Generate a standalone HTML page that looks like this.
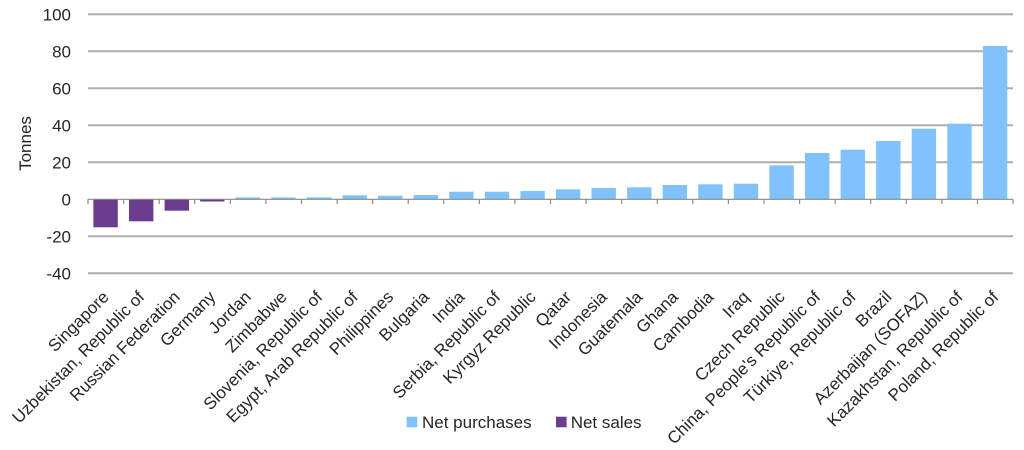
<!DOCTYPE html>
<html>
<head>
<meta charset="utf-8">
<style>
html,body{margin:0;padding:0;background:#fff;}
svg{display:block;}
text{font-family:"Liberation Sans",sans-serif;fill:#262626;}
</style>
</head>
<body>
<svg width="1024" height="450" viewBox="0 0 1024 450" xmlns="http://www.w3.org/2000/svg">
<rect width="1024" height="450" fill="#fff"/>
<g stroke="#adadad" stroke-width="2">
<line x1="88" x2="1013" y1="14.3" y2="14.3"/>
<line x1="88" x2="1013" y1="51.3" y2="51.3"/>
<line x1="88" x2="1013" y1="88.3" y2="88.3"/>
<line x1="88" x2="1013" y1="125.3" y2="125.3"/>
<line x1="88" x2="1013" y1="162.3" y2="162.3"/>
<line x1="88" x2="1013" y1="236.3" y2="236.3"/>
<line x1="88" x2="1013" y1="273.3" y2="273.3"/>
</g>
<g font-size="17" text-anchor="end">
<text x="71" y="20.3">100</text>
<text x="71" y="57.3">80</text>
<text x="71" y="94.3">60</text>
<text x="71" y="131.3">40</text>
<text x="71" y="168.3">20</text>
<text x="71" y="205.3">0</text>
<text x="71" y="242.3">-20</text>
<text x="71" y="279.3">-40</text>
</g>
<text font-size="17" text-anchor="middle" transform="translate(31,143.5) rotate(-90)">Tonnes</text>
<g fill="#6b3d8e">
<rect x="93.4" y="199.3" width="24.4" height="28.0"/>
<rect x="129.0" y="199.3" width="24.4" height="22.0"/>
<rect x="164.6" y="199.3" width="24.4" height="11.4"/>
<rect x="200.1" y="199.3" width="24.4" height="2.2"/>
</g>
<g fill="#80c3fc">
<rect x="235.7" y="197.4" width="24.4" height="1.9"/>
<rect x="271.3" y="197.4" width="24.4" height="1.9"/>
<rect x="306.9" y="197.3" width="24.4" height="2.0"/>
<rect x="342.5" y="195.3" width="24.4" height="4.0"/>
<rect x="378.0" y="195.7" width="24.4" height="3.6"/>
<rect x="413.6" y="195.0" width="24.4" height="4.3"/>
<rect x="449.2" y="191.7" width="24.4" height="7.6"/>
<rect x="484.8" y="191.7" width="24.4" height="7.6"/>
<rect x="520.4" y="191.0" width="24.4" height="8.3"/>
<rect x="555.9" y="189.3" width="24.4" height="10.0"/>
<rect x="591.5" y="188.0" width="24.4" height="11.3"/>
<rect x="627.1" y="187.3" width="24.4" height="12.0"/>
<rect x="662.7" y="185.0" width="24.4" height="14.3"/>
<rect x="698.2" y="184.3" width="24.4" height="15.0"/>
<rect x="733.8" y="183.7" width="24.4" height="15.6"/>
<rect x="769.4" y="165.3" width="24.4" height="34.0"/>
<rect x="805.0" y="153.0" width="24.4" height="46.3"/>
<rect x="840.6" y="149.7" width="24.4" height="49.6"/>
<rect x="876.1" y="141.0" width="24.4" height="58.3"/>
<rect x="911.7" y="128.7" width="24.4" height="70.6"/>
<rect x="947.3" y="123.7" width="24.4" height="75.6"/>
<rect x="982.9" y="46.0" width="24.4" height="153.3"/>
</g>
<line x1="88" x2="1013" y1="199.3" y2="199.3" stroke="#8a8a8a" stroke-width="1.2"/>
<g stroke="#8a8a8a" stroke-width="1.2">
<line x1="88.0" x2="88.0" y1="199.3" y2="204"/>
<line x1="123.6" x2="123.6" y1="199.3" y2="204"/>
<line x1="159.2" x2="159.2" y1="199.3" y2="204"/>
<line x1="194.7" x2="194.7" y1="199.3" y2="204"/>
<line x1="230.3" x2="230.3" y1="199.3" y2="204"/>
<line x1="265.9" x2="265.9" y1="199.3" y2="204"/>
<line x1="301.5" x2="301.5" y1="199.3" y2="204"/>
<line x1="337.1" x2="337.1" y1="199.3" y2="204"/>
<line x1="372.6" x2="372.6" y1="199.3" y2="204"/>
<line x1="408.2" x2="408.2" y1="199.3" y2="204"/>
<line x1="443.8" x2="443.8" y1="199.3" y2="204"/>
<line x1="479.4" x2="479.4" y1="199.3" y2="204"/>
<line x1="514.9" x2="514.9" y1="199.3" y2="204"/>
<line x1="550.5" x2="550.5" y1="199.3" y2="204"/>
<line x1="586.1" x2="586.1" y1="199.3" y2="204"/>
<line x1="621.7" x2="621.7" y1="199.3" y2="204"/>
<line x1="657.3" x2="657.3" y1="199.3" y2="204"/>
<line x1="692.8" x2="692.8" y1="199.3" y2="204"/>
<line x1="728.4" x2="728.4" y1="199.3" y2="204"/>
<line x1="764.0" x2="764.0" y1="199.3" y2="204"/>
<line x1="799.6" x2="799.6" y1="199.3" y2="204"/>
<line x1="835.1" x2="835.1" y1="199.3" y2="204"/>
<line x1="870.7" x2="870.7" y1="199.3" y2="204"/>
<line x1="906.3" x2="906.3" y1="199.3" y2="204"/>
<line x1="941.9" x2="941.9" y1="199.3" y2="204"/>
<line x1="977.5" x2="977.5" y1="199.3" y2="204"/>
<line x1="1013.0" x2="1013.0" y1="199.3" y2="204"/>
</g>
<g font-size="17" text-anchor="end">
<text transform="translate(109.8,298) rotate(-45)">Singapore</text>
<text transform="translate(145.4,298) rotate(-45)">Uzbekistan, Republic of</text>
<text transform="translate(181.0,298) rotate(-45)">Russian Federation</text>
<text transform="translate(216.5,298) rotate(-45)">Germany</text>
<text transform="translate(252.1,298) rotate(-45)">Jordan</text>
<text transform="translate(287.7,298) rotate(-45)">Zimbabwe</text>
<text transform="translate(323.3,298) rotate(-45)">Slovenia, Republic of</text>
<text transform="translate(358.9,298) rotate(-45)">Egypt, Arab Republic of</text>
<text transform="translate(394.4,298) rotate(-45)">Philippines</text>
<text transform="translate(430.0,298) rotate(-45)">Bulgaria</text>
<text transform="translate(465.6,298) rotate(-45)">India</text>
<text transform="translate(501.2,298) rotate(-45)">Serbia, Republic of</text>
<text transform="translate(536.7,298) rotate(-45)">Kyrgyz Republic</text>
<text transform="translate(572.3,298) rotate(-45)">Qatar</text>
<text transform="translate(607.9,298) rotate(-45)">Indonesia</text>
<text transform="translate(643.5,298) rotate(-45)">Guatemala</text>
<text transform="translate(679.1,298) rotate(-45)">Ghana</text>
<text transform="translate(714.6,298) rotate(-45)">Cambodia</text>
<text transform="translate(750.2,298) rotate(-45)">Iraq</text>
<text transform="translate(785.8,298) rotate(-45)">Czech Republic</text>
<text transform="translate(821.4,298) rotate(-45)">China, People's Republic of</text>
<text transform="translate(856.9,298) rotate(-45)">Türkiye, Republic of</text>
<text transform="translate(892.5,298) rotate(-45)">Brazil</text>
<text transform="translate(928.1,298) rotate(-45)">Azerbaijan (SOFAZ)</text>
<text transform="translate(963.7,298) rotate(-45)">Kazakhstan, Republic of</text>
<text transform="translate(999.3,298) rotate(-45)">Poland, Republic of</text>
</g>
<rect x="406.7" y="416.7" width="10.6" height="10.6" fill="#80c3fc"/>
<text x="422" y="428" font-size="17">Net purchases</text>
<rect x="556" y="416.7" width="10.6" height="10.6" fill="#6b3d8e"/>
<text x="570.7" y="428" font-size="17">Net sales</text>
</svg>
</body>
</html>
